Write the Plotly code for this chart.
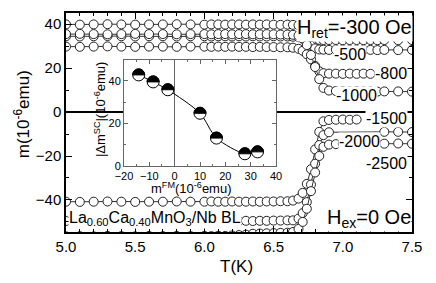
import plotly.graph_objects as go

# ---------------- data ----------------
T = [5.0, 5.1, 5.2, 5.3, 5.4, 5.5, 5.6, 5.7, 5.8, 5.9,
     6.0, 6.05, 6.1, 6.15, 6.2, 6.25, 6.3, 6.35, 6.4, 6.45, 6.5, 6.55, 6.6,
     6.64, 6.68, 6.71, 6.74, 6.77, 6.8, 6.83, 6.86,
     6.9, 6.95, 7.0, 7.05, 7.1, 7.15, 7.2, 7.25,
     7.3, 7.4, 7.5]

m_300 = [39.9, 39.8, 39.9, 40.0, 39.9, 39.8, 39.9, 39.9, 40.0, 39.9,
         39.8, 39.9, 39.9, 39.8, 39.9, 39.9, 39.8, 39.9, 39.8, 39.9, 39.8, 39.7, 39.8,
         39.7, 39.5, 38.5, 36.0, 33.8, 33.0, 32.9, 32.8,
         32.8, 32.8, 32.7, 32.8, 32.8, 32.7, 32.8, 32.7,
         32.8, 32.7, 32.8]
m_500 = [34.5, 34.4, 34.5, 34.6, 34.5, 34.4, 34.5, 34.5, 34.4, 34.5,
         34.5, 34.4, 34.5, 34.5, 34.4, 34.5, 34.4, 34.5, 34.4, 34.4, 34.5, 34.4, 34.4,
         34.3, 34.1, 33.4, 32.0, 30.2, 29.0, 28.5, 28.4,
         28.3, 28.4, 28.3, 28.3, 28.2, 28.3, 28.3, 28.2,
         28.3, 28.2, 28.3]
m_800 = [29.8, 29.7, 29.8, 29.9, 29.8, 29.7, 29.8, 29.8, 29.7, 29.8,
         29.8, 29.7, 29.8, 29.7, 29.8, 29.7, 29.7, 29.6, 29.7, 29.6, 29.6, 29.5, 29.5,
         29.3, 28.8, 27.9, 26.3, 24.0, 21.0, 18.6, 17.7,
         17.5, 17.5, 17.4, 17.5, 17.4, 17.5, 17.4, None,
         None, None, None]
m_1000 = [35.5, 35.6, 35.5, 35.4, 35.5, 35.6, 35.5, 35.5, 35.4, 35.5,
          35.5, 35.4, 35.5, 35.5, 35.4, 35.5, 35.5, 35.4, 35.4, 35.5, 35.4, 35.3, 35.3,
          35.2, 34.8, 33.5, 30.5, 26.0, 20.5, 15.0, 11.0,
          9.8, 9.6, 9.5, 9.4, 9.5, 9.4, 9.4, 9.3,
          9.4, 9.4, 9.3]
m_1500 = [-40.8, -40.9, -40.8, -40.7, -40.8, -40.9, -40.8, -40.8, -40.7, -40.8,
          -40.8, -40.7, -40.8, -40.8, -40.7, -40.8, -40.8, -40.7, -40.8, -40.7, -40.7, -40.6, -40.6,
          -40.3, -39.4, -36.8, -32.7, -26.0, -17.0, -9.0, -4.2,
          -3.6, -3.5, -3.4, -3.5, -3.4, None, None, None,
          None, None, None]
m_2000 = [-49.6, -49.5, -49.6, -49.7, -49.6, -49.5, -49.6, -49.6, -49.5, -49.6,
          -49.6, -49.5, -49.6, -49.6, -49.5, -49.6, -49.5, -49.6, -49.5, -49.5, -49.4, -49.4, -49.3,
          -49.3, -48.5, -46.0, -41.0, -33.0, -23.5, -15.0, -10.5,
          -9.2, None, None, None, None, None, None, None,
          -9.0, -9.0, -9.1]
m_2500 = [-56.6, -56.5, -56.6, -56.4, -56.5, -56.6, -56.4, -56.5, -56.4, -56.5,
          -56.4, -56.5, -56.3, -56.4, -56.2, -56.0, -55.8, -55.4, -55.3, -55.2, -55.1, -55.0, -54.9,
          -54.6, -53.2, -50.0, -44.0, -36.0, -27.5, -20.0, -15.8,
          -14.8, -14.6, -14.5, -14.4, -14.4, -14.3, -14.4, -14.4,
          -14.4, -14.3, -14.4]

curves = [m_300, m_500, m_800, m_1000, m_1500, m_2000, m_2500]

# inset: |dm_SC| vs m_FM
m_FM = [-14.2, -8.5, -2.7, 10.0, 16.5, 27.7, 32.7]
dm_SC = [42.8, 39.5, 35.8, 24.7, 13.0, 5.6, 6.5]

FONT = "Liberation Sans, Arial, Helvetica, sans-serif"
fig = go.Figure()

for c in curves:
    fig.add_trace(go.Scatter(
        x=T, y=c, mode="lines+markers", connectgaps=True,
        line=dict(color="#333333", width=1),
        marker=dict(symbol="circle", size=9, color="white",
                    line=dict(color="#222222", width=1)),
        showlegend=False, xaxis="x", yaxis="y"))

# inset fit line and points
fig.add_trace(go.Scatter(
    x=m_FM, y=dm_SC, mode="lines", line=dict(color="black", width=1, shape="spline", smoothing=0.8),
    showlegend=False, xaxis="x2", yaxis="y2"))
fig.add_trace(go.Scatter(
    x=m_FM, y=dm_SC, mode="markers",
    marker=dict(symbol="circle", size=12, color="white", line=dict(color="black", width=1)),
    showlegend=False, xaxis="x2", yaxis="y2"))

shapes = []
r = 6
k = 0.5523 * r
half = (f"M {-r},0 C {-r},{k:.2f} {-k:.2f},{r} 0,{r} "
        f"C {k:.2f},{r} {r},{k:.2f} {r},0 Z")
for xv, yv in zip(m_FM, dm_SC):
    shapes.append(dict(type="path", xref="x2", yref="y2",
                       xsizemode="pixel", ysizemode="pixel",
                       xanchor=xv, yanchor=yv, path=half,
                       fillcolor="black", line=dict(color="black", width=1)))

axis_common = dict(showline=True, linecolor="black", linewidth=1.5, mirror="ticks",
                   ticks="inside", tickcolor="black", ticklen=6, tickwidth=1,
                   showgrid=False, tickfont=dict(size=15, family=FONT, color="black"))

ann = []
def A(text, x, y, size=16, xanchor="center", yanchor="middle", xref="x", yref="y", bg="white", angle=0):
    ann.append(dict(text=text, x=x, y=y, xref=xref, yref=yref, showarrow=False,
                    xanchor=xanchor, yanchor=yanchor, textangle=angle,
                    font=dict(size=size, family=FONT, color="black"),
                    bgcolor=bg, borderpad=0))

A("H<sub>ret</sub>=-300 Oe", 6.662, 38.0, size=20, xanchor="left")
A("-500", 7.052, 26.4)
A("-800", 7.471, 17.6, xanchor="right")
A("-1000", 7.10, 7.6)
A("-1500", 7.471, -2.9, xanchor="right")
A("-2000", 7.124, -13.6)
A("-2500", 7.471, -23.6, xanchor="right")
A("H<sub>ex</sub>=0 Oe", 6.879, -48.5, size=20, xanchor="left")
A("La<sub>0.60</sub>Ca<sub>0.40</sub>MnO<sub>3</sub>/Nb BL", 5.015, -48.5, size=16, xanchor="left")
# axis titles
A("m(10<sup>-6</sup>emu)", -0.127, 0.538, size=17, xref="paper", yref="paper", bg=None, angle=-90)
A("T(K)", 0.494, -0.158, size=17, xref="paper", yref="paper", bg=None)
A("|Δm<sup>SC</sup>|(10<sup>-6</sup>emu)", 0.098, 0.561, size=13, xref="paper", yref="paper", bg=None, angle=-90)
A("m<sup>FM</sup>(10<sup>-6</sup>emu)", 0.364, 0.199, size=13, xref="paper", yref="paper", bg=None)

fig.update_layout(
    width=436, height=283, autosize=False,
    margin=dict(l=66, r=24, t=11, b=51),
    paper_bgcolor="white", plot_bgcolor="white",
    font=dict(family=FONT, color="black"),
    xaxis=dict(range=[5.0, 7.5], dtick=0.5, tick0=5.0, tickformat=".1f", zeroline=False,
               minor=dict(dtick=0.1, ticklen=3, ticks="inside", tickcolor="black"),
               **axis_common),
    yaxis=dict(range=[-54.6, 45.1], dtick=20, tick0=0,
               zeroline=True, zerolinecolor="black", zerolinewidth=2,
               minor=dict(dtick=10, ticklen=3, ticks="inside", tickcolor="black"),
               **axis_common),
    xaxis2=dict(domain=[0.1676, 0.607], anchor="y2", range=[-20, 40], dtick=10,
                showline=True, linecolor="#666666", linewidth=1, mirror="ticks",
                ticks="inside", ticklen=4, tickcolor="#666666", showgrid=False,
                zeroline=True, zerolinecolor="#666666", zerolinewidth=1,
                minor=dict(dtick=5, ticklen=2, ticks="inside", tickcolor="#666666"),
                tickfont=dict(size=11, family=FONT, color="black")),
    yaxis2=dict(domain=[0.303, 0.787], anchor="x2", range=[0, 50], dtick=20,
                showline=True, linecolor="#666666", linewidth=1, mirror="ticks",
                ticks="inside", ticklen=4, tickcolor="#666666", showgrid=False,
                zeroline=False,
                minor=dict(dtick=10, ticklen=2, ticks="inside", tickcolor="#666666"),
                tickfont=dict(size=11, family=FONT, color="black")),
    shapes=shapes,
    annotations=ann,
)

fig.write_html("out.html", config={"displayModeBar": False},
               post_script="document.body.style.margin='0';")
